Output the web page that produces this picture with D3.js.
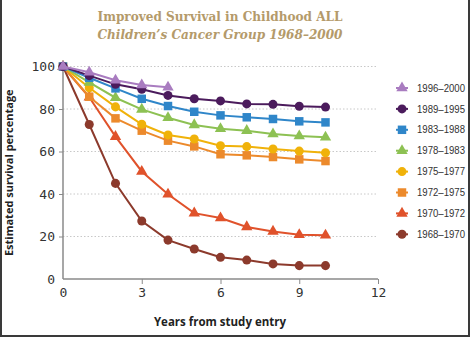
<!DOCTYPE html>
<html>
<head>
<meta charset="utf-8">
<script src="https://cdn.jsdelivr.net/npm/d3@7"></script>
<style>
  body { margin: 0; background: #fff; }
  svg { display: block; }
</style>
</head>
<body>
<script>
const width = 470;
const height = 337;

// survival curves by study period, years 0..10
const years = [0, 1, 2, 3, 4, 5, 6, 7, 8, 9, 10];
const periods = ['1996–2000', '1989–1995', '1983–1988', '1978–1983', '1975–1977', '1972–1975', '1970–1972', '1968–1970'];
const s1996 = [100, 97.3, 93.5, 91.3, 90.2];
const s1989 = [100, 95.7, 91.6, 89.3, 86.4, 84.8, 83.8, 82.4, 82.2, 81.3, 80.9];
const s1983 = [100, 94.7, 89.7, 84.8, 81.4, 78.7, 77.0, 76.1, 75.3, 74.2, 73.7];
const s1978 = [100, 92.5, 85.3, 79.8, 75.9, 72.5, 70.7, 69.8, 68.2, 67.3, 66.7];
const s1975 = [100, 90.0, 81.0, 72.8, 67.8, 65.9, 62.7, 62.3, 61.2, 60.2, 59.4];
const s1972 = [100, 85.8, 75.6, 69.8, 65.1, 62.4, 58.7, 58.2, 57.4, 56.3, 55.5];
const s1970 = [100, 85.5, 67.0, 50.6, 39.9, 31.0, 28.7, 24.5, 22.4, 20.8, 20.6];
const s1968 = [100, 72.7, 45.0, 27.3, 18.3, 14.1, 10.2, 8.9, 7.1, 6.3, 6.3];
const xTicks = [0, 3, 6, 9, 12];
const yTicks = [0, 20, 40, 60, 80, 100];

const series = [
  { name: periods[0], values: s1996, color: '#a97cc0', shape: d3.symbolTriangle },
  { name: periods[1], values: s1989, color: '#4b1b5c', shape: d3.symbolCircle },
  { name: periods[2], values: s1983, color: '#2f86c9', shape: d3.symbolSquare },
  { name: periods[3], values: s1978, color: '#8dc153', shape: d3.symbolTriangle },
  { name: periods[4], values: s1975, color: '#f0b20a', shape: d3.symbolCircle },
  { name: periods[5], values: s1972, color: '#ec8a2c', shape: d3.symbolSquare },
  { name: periods[6], values: s1970, color: '#e0522b', shape: d3.symbolTriangle },
  { name: periods[7], values: s1968, color: '#8c3a2c', shape: d3.symbolCircle }
];

const symbolSize = { circle: 64, square: 72, triangle: 56 };
function sizeOf(shape) {
  if (shape === d3.symbolCircle) return symbolSize.circle;
  if (shape === d3.symbolSquare) return symbolSize.square;
  return symbolSize.triangle;
}

const margin = { top: 66.5, right: 92, bottom: 58, left: 63 };

const svg = d3.select('body').append('svg')
  .attr('width', width)
  .attr('height', height);

svg.append('rect')
  .attr('width', width).attr('height', height)
  .attr('fill', '#fff');

const x = d3.scaleLinear().domain([0, 12]).range([margin.left, width - margin.right]);
const y = d3.scaleLinear().domain([0, 100]).range([height - margin.bottom, margin.top]);

// title
const titleFont = '"DejaVu Serif", serif';
svg.append('text')
  .attr('x', 220).attr('y', 21)
  .attr('text-anchor', 'middle')
  .attr('font-family', titleFont)
  .attr('font-weight', 'bold')
  .attr('font-size', 12.5)
  .attr('fill', '#b49a6a')
  .attr('textLength', 245)
  .attr('lengthAdjust', 'spacingAndGlyphs')
  .text('Improved Survival in Childhood ALL');
svg.append('text')
  .attr('x', 220).attr('y', 39)
  .attr('text-anchor', 'middle')
  .attr('font-family', titleFont)
  .attr('font-weight', 'bold')
  .attr('font-style', 'italic')
  .attr('font-size', 12.5)
  .attr('fill', '#b49a6a')
  .attr('textLength', 245)
  .attr('lengthAdjust', 'spacingAndGlyphs')
  .text('Children’s Cancer Group 1968–2000');

// dotted gridlines
svg.append('g')
  .selectAll('line')
  .data(yTicks.filter(d => d > 0))
  .enter().append('line')
    .attr('x1', x(0)).attr('x2', x(12))
    .attr('y1', d => y(d)).attr('y2', d => y(d))
    .attr('stroke', '#c8c8c8')
    .attr('stroke-width', 1)
    .attr('stroke-dasharray', '1.5,2');

const tickFont = '"DejaVu Sans Mono", monospace';

// y axis
const yAxis = svg.append('g')
  .attr('transform', `translate(${x(0)},0)`)
  .call(d3.axisLeft(y).tickValues(yTicks).tickSize(4).tickPadding(4));
yAxis.select('.domain').remove();
yAxis.append('line')
  .attr('x1', 0).attr('x2', 0)
  .attr('y1', y(0)).attr('y2', y(100))
  .attr('stroke', '#8a8a8a').attr('stroke-width', 1.5);

// x axis
const xAxis = svg.append('g')
  .attr('transform', `translate(0,${y(0)})`)
  .call(d3.axisBottom(x).tickValues(xTicks).tickSize(5).tickPadding(4));
xAxis.select('.domain').remove();
xAxis.append('line')
  .attr('x1', x(0)).attr('x2', x(12))
  .attr('stroke', '#8a8a8a').attr('stroke-width', 1.5);

[xAxis, yAxis].forEach(ax => {
  ax.selectAll('.tick line').attr('stroke', '#8a8a8a');
  ax.selectAll('.tick text')
    .attr('font-family', tickFont)
    .attr('font-size', 13)
    .attr('fill', '#333');
});
xAxis.selectAll('.tick').filter(d => d === 0).select('line').remove();
yAxis.selectAll('.tick').filter(d => d === 0).select('line').remove();

// axis titles
const labelFont = '"Open Sans", "Liberation Sans", sans-serif';
svg.append('text')
  .attr('x', 220).attr('y', 326)
  .attr('text-anchor', 'middle')
  .attr('font-family', labelFont)
  .attr('font-weight', 'bold')
  .attr('font-size', 11.5)
  .attr('fill', '#222')
  .text('Years from study entry');
svg.append('text')
  .attr('transform', `translate(13,${y(50)}) rotate(-90)`)
  .attr('text-anchor', 'middle')
  .attr('font-family', labelFont)
  .attr('font-weight', 'bold')
  .attr('font-size', 11)
  .attr('fill', '#222')
  .text('Estimated survival percentage');

// curves, oldest period drawn first
const line = d3.line()
  .x((d, i) => x(years[i]))
  .y(d => y(d));

const curves = svg.append('g')
  .selectAll('g')
  .data(series.slice().reverse())
  .enter().append('g');

curves.append('path')
  .attr('d', d => line(d.values))
  .attr('fill', 'none')
  .attr('stroke', d => d.color)
  .attr('stroke-width', 2);

curves.each(function (s) {
  d3.select(this).selectAll('path.mark')
    .data(s.values)
    .enter().append('path')
      .attr('class', 'mark')
      .attr('transform', (d, i) => `translate(${x(years[i])},${y(d)})`)
      .attr('d', d3.symbol().type(s.shape).size(sizeOf(s.shape)))
      .attr('fill', s.color);
});

// legend
const legend = svg.append('g')
  .selectAll('g')
  .data(series)
  .enter().append('g')
    .attr('transform', (d, i) => `translate(402,${88 + i * 20.9})`);

legend.append('line')
  .attr('x1', -6).attr('x2', 6)
  .attr('stroke', d => d.color)
  .attr('stroke-width', 2);

legend.append('path')
  .attr('d', d => d3.symbol().type(d.shape).size(sizeOf(d.shape))())
  .attr('fill', d => d.color);

legend.append('text')
  .attr('x', 15).attr('dy', '0.35em')
  .attr('font-family', '"Liberation Sans", sans-serif')
  .attr('font-size', 10.5)
  .attr('fill', '#333')
  .attr('textLength', 48)
  .attr('lengthAdjust', 'spacingAndGlyphs')
  .text(d => d.name);

// frame on the left, right and bottom edges
svg.append('path')
  .attr('d', `M1,0V${height - 1}H${width - 1}V0`)
  .attr('fill', 'none')
  .attr('stroke', '#3a3a3a')
  .attr('stroke-width', 2);
</script>
</body>
</html>
